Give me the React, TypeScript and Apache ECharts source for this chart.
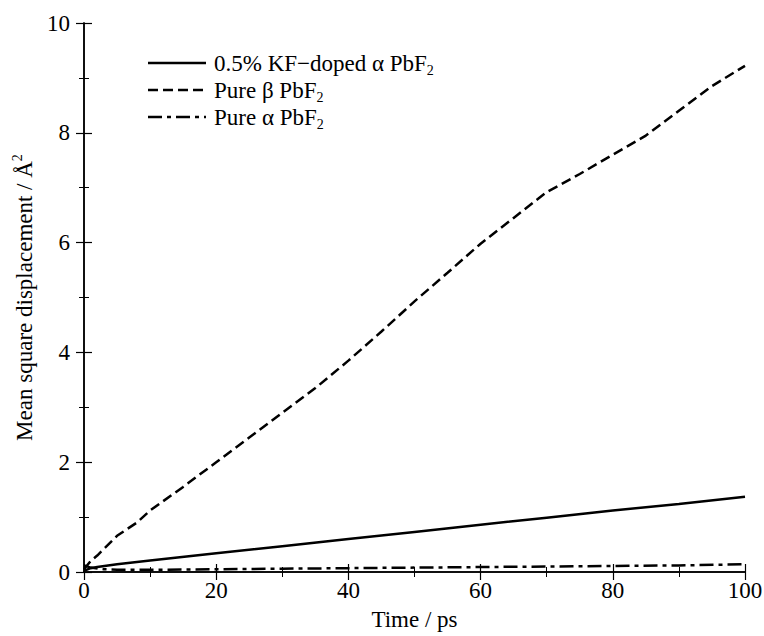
import React, { useEffect, useRef } from "react";
import * as echarts from "echarts";

const betaTime = [0, 1, 2, 3, 5, 8, 10, 15, 20, 25, 30, 35, 40, 45, 50, 55, 60, 65, 70, 72, 75, 80, 85, 90, 95, 100];
const betaMsd = [0.05, 0.2, 0.3, 0.42, 0.66, 0.9, 1.12, 1.55, 2.0, 2.45, 2.9, 3.35, 3.85, 4.38, 4.93, 5.45, 5.98, 6.45, 6.92, 7.05, 7.25, 7.6, 7.95, 8.4, 8.85, 9.22];
const dopedTime = [0, 1, 2, 5, 10, 20, 30, 40, 50, 60, 70, 80, 90, 100];
const dopedMsd = [0.02, 0.07, 0.09, 0.14, 0.21, 0.34, 0.47, 0.6, 0.73, 0.86, 0.99, 1.12, 1.24, 1.37];
const alphaTime = [0, 1, 3, 5, 10, 20, 30, 40, 50, 60, 70, 80, 90, 100];
const alphaMsd = [0.12, 0.08, 0.05, 0.04, 0.04, 0.05, 0.06, 0.07, 0.08, 0.09, 0.1, 0.11, 0.12, 0.14];
const xTicks = [0, 20, 40, 60, 80, 100];
const yTicks = [0, 2, 4, 6, 8, 10];

const legendLabels = [
  "0.5% KF\u2212doped \u03b1 PbF{sub|2}",
  "Pure \u03b2 PbF{sub|2}",
  "Pure \u03b1 PbF{sub|2}",
];

const FONT = "Liberation Serif";
const FS = 23;

const zip = (xs: number[], ys: number[]) => xs.map((x, i) => [x, ys[i]]);

export default function App() {
  const ref = useRef<HTMLDivElement>(null);
  useEffect(() => {
    if (!ref.current) return;
    const chart = echarts.init(ref.current, undefined, { renderer: "svg" });
    const dashTypes: any[] = ["solid", [10, 5], [14, 5, 4, 5]];
    const axisCommon = {
      type: "value",
      min: 0,
      axisLine: { show: true, lineStyle: { color: "#000", width: 1.5 } },
      axisTick: { show: true, inside: true, length: 8, lineStyle: { color: "#000", width: 1.2 } },
      minorTick: { show: true, splitNumber: 2, length: 5, lineStyle: { color: "#000", width: 1 } },
      splitLine: { show: false },
    };
    const legendGraphics: any[] = [];
    legendLabels.forEach((lab, i) => {
      const y = 63 + i * 27;
      legendGraphics.push({
        type: "line",
        shape: { x1: 148, y1: y, x2: 206, y2: y },
        style: { stroke: "#000", lineWidth: 2.5, lineDash: dashTypes[i] === "solid" ? null : dashTypes[i] },
      });
      legendGraphics.push({
        type: "text",
        x: 214,
        y: y,
        style: {
          text: lab,
          font: `${FS}px "${FONT}"`,
          fill: "#000",
          verticalAlign: "middle",
          rich: {
            sub: { fontSize: 14, fontFamily: FONT, padding: [14, 0, 0, 0], fill: "#000" },
          },
        },
      });
    });
    chart.setOption({
      animation: false,
      textStyle: { fontFamily: FONT },
      grid: { left: 84, right: 19, top: 23, bottom: 64, outerBoundsMode: "none", containLabel: false },
      xAxis: [
        {
          ...axisCommon,
          max: 100,
          interval: 20,
          position: "bottom",
          axisLabel: { color: "#000", fontSize: FS, fontFamily: FONT, margin: 7, formatter: (v: number) => (xTicks.includes(v) ? String(v) : "") },
          name: "Time / ps",
          nameLocation: "middle",
          nameGap: 36,
          nameTextStyle: { color: "#000", fontSize: FS, fontFamily: FONT },
        },
        {
          ...axisCommon,
          max: 100,
          interval: 20,
          position: "top",
          axisLabel: { show: false },
        },
      ],
      yAxis: [
        {
          ...axisCommon,
          max: 10,
          interval: 2,
          position: "left",
          axisLabel: { color: "#000", fontSize: FS, fontFamily: FONT, margin: 14, formatter: (v: number) => (yTicks.includes(v) ? String(v) : "") },
          name: "Mean square displacement / \u00c5{sup|2}",
          nameLocation: "middle",
          nameGap: 46,
          nameTextStyle: {
            color: "#000",
            fontSize: FS,
            fontFamily: FONT,
            rich: { sup: { fontSize: 14, fontFamily: FONT, padding: [0, 0, 14, 0], color: "#000" } },
          },
        },
        {
          ...axisCommon,
          max: 10,
          interval: 2,
          position: "right",
          axisLabel: { show: false },
        },
      ],
      series: [
        {
          type: "line",
          data: zip(dopedTime, dopedMsd),
          showSymbol: false,
          symbol: "none",
          lineStyle: { color: "#000", width: 2.5, type: dashTypes[0] },
        },
        {
          type: "line",
          data: zip(betaTime, betaMsd),
          showSymbol: false,
          symbol: "none",
          lineStyle: { color: "#000", width: 2.5, type: dashTypes[1] },
        },
        {
          type: "line",
          data: zip(alphaTime, alphaMsd),
          showSymbol: false,
          symbol: "none",
          lineStyle: { color: "#000", width: 2.5, type: dashTypes[2] },
        },
      ],
      graphic: legendGraphics,
    });
    return () => chart.dispose();
  }, []);
  return <div ref={ref} style={{ position: "absolute", left: 0, top: 0, width: 764, height: 636 }} />;
}
